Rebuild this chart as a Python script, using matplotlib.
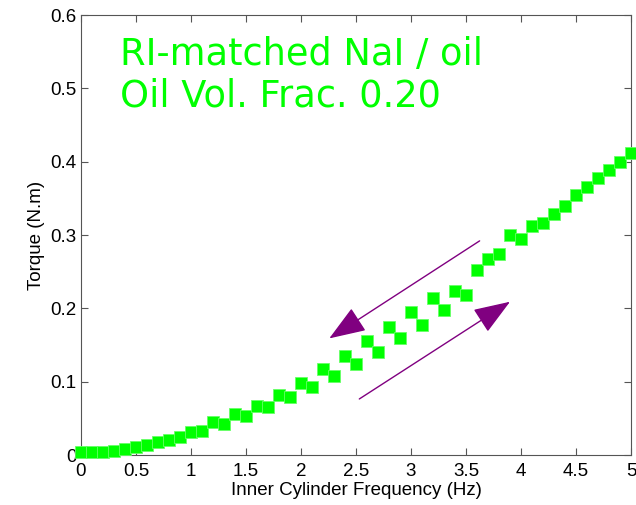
import matplotlib
matplotlib.use("Agg")
import matplotlib.pyplot as plt
import numpy as np

# inner cylinder frequency (Hz) and torque (N.m)
freq = [0.0, 0.1, 0.2, 0.3, 0.4, 0.5, 0.6, 0.7, 0.8, 0.9,
        1.0, 1.1, 1.2, 1.3, 1.4, 1.5, 1.6, 1.7, 1.8, 1.9,
        2.0, 2.1, 2.2, 2.3, 2.4, 2.5, 2.6, 2.7, 2.8, 2.9,
        3.0, 3.1, 3.2, 3.3, 3.4, 3.5, 3.6, 3.7, 3.8, 3.9,
        4.0, 4.1, 4.2, 4.3, 4.4, 4.5, 4.6, 4.7, 4.8, 4.9, 5.0]
torque = [0.004, 0.004, 0.004, 0.006, 0.008, 0.0105, 0.013, 0.0177, 0.020, 0.024,
          0.031, 0.033, 0.0445, 0.042, 0.0555, 0.053, 0.067, 0.066, 0.082, 0.0795,
          0.098, 0.093, 0.117, 0.108, 0.135, 0.124, 0.155, 0.140, 0.175, 0.159,
          0.1955, 0.177, 0.214, 0.198, 0.224, 0.218, 0.252, 0.267, 0.274, 0.300,
          0.295, 0.3125, 0.316, 0.329, 0.340, 0.355, 0.365, 0.3775, 0.389, 0.400, 0.4116]

xticks = [0, 0.5, 1, 1.5, 2, 2.5, 3, 3.5, 4, 4.5, 5]
xticklabels = ["0", "0.5", "1", "1.5", "2", "2.5", "3", "3.5", "4", "4.5", "5"]
yticks = [0, 0.1, 0.2, 0.3, 0.4, 0.5, 0.6]
yticklabels = ["0", "0.1", "0.2", "0.3", "0.4", "0.5", "0.6"]

# hysteresis arrows: (tail, tip) in data coords
arrow_down = ((3.624, 0.292), (2.257, 0.159))
arrow_up = ((2.53, 0.0764), (3.90, 0.209))

title_lines = "RI-matched NaI / oil\nOil Vol. Frac. 0.20"

TICK_FONT = ["Liberation Sans", "DejaVu Sans"]
GREEN = "#00ff00"
PURPLE = "#800080"
SPINE = "#555555"
FS = 13.5

fig = plt.figure(figsize=(6.36, 5.05), dpi=100)
ax = fig.add_axes([81 / 636, 50 / 505, 550 / 636, 440 / 505])

ax.plot(freq, torque, ls="none", marker="s", ms=8, mfc=GREEN,
        mec="#66ff66", mew=0.6, clip_on=False, zorder=3)

for (x0, y0), (x1, y1) in (arrow_down, arrow_up):
    ax.annotate("", xy=(x1, y1), xytext=(x0, y0),
                arrowprops=dict(arrowstyle="-|>,head_length=2.3,head_width=0.85",
                                color=PURPLE, lw=1.0, shrinkA=0, shrinkB=0))

ax.text(0.07, 0.953, title_lines, transform=ax.transAxes, color=GREEN,
        fontsize=26.5, family="DejaVu Sans", va="top", ha="left",
        linespacing=1.17)

ax.set_xlim(0, 5)
ax.set_ylim(0, 0.6)
ax.set_xticks(xticks)
ax.set_xticklabels(xticklabels, family=TICK_FONT, fontsize=FS)
ax.set_yticks(yticks)
ax.set_yticklabels(yticklabels, family=TICK_FONT, fontsize=FS)
ax.tick_params(direction="in", top=True, right=True, length=5,
               width=0.8, color=SPINE)
ax.tick_params(axis="x", pad=6)
ax.tick_params(axis="y", pad=3)
for s in ax.spines.values():
    s.set_color(SPINE)
    s.set_linewidth(0.8)

ax.set_xlabel("Inner Cylinder Frequency (Hz)", family=TICK_FONT,
              fontsize=FS, labelpad=1)
ax.set_ylabel("Torque (N.m)", family=TICK_FONT, fontsize=FS, labelpad=4)

fig.savefig("out.png", dpi=100)
